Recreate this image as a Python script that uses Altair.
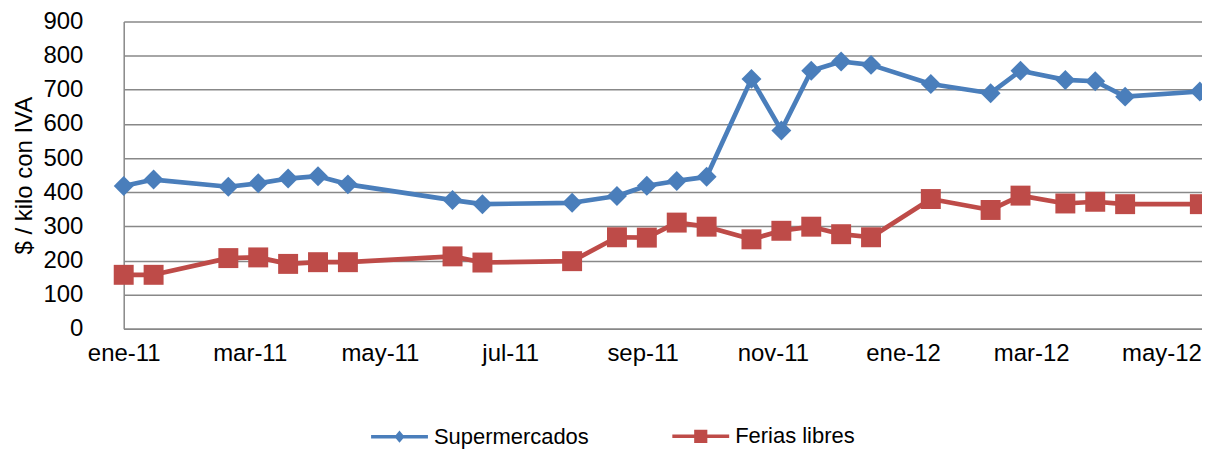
import altair as alt
import pandas as pd

# ---- data ----
dates = [
    "2011-01-01", "2011-01-15", "2011-02-19", "2011-03-05", "2011-03-19",
    "2011-04-02", "2011-04-16", "2011-06-04", "2011-06-18", "2011-07-30",
    "2011-08-20", "2011-09-03", "2011-09-17", "2011-10-01", "2011-10-22",
    "2011-11-05", "2011-11-19", "2011-12-03", "2011-12-17", "2012-01-14",
    "2012-02-11", "2012-02-25", "2012-03-17", "2012-03-31", "2012-04-14",
    "2012-05-19",
]
supermercados = [418, 437, 416, 426, 440, 447, 423, 377, 365, 369, 389, 419, 433,
                 445, 732, 581, 756, 783, 773, 717, 690, 756, 729, 725, 680, 695]
ferias_libres = [158, 158, 207, 209, 190, 195, 195, 212, 194, 198, 268, 267, 311,
                 299, 262, 287, 299, 277, 268, 380, 348, 390, 367, 372, 365, 365]

series_names = ["Supermercados", "Ferias libres"]
series_colors = ["#4A7EBB", "#BE4B48"]
series_shapes = ["diamond", "square"]
series_sizes = [400, 400]

tick_dates = [(2011, 1), (2011, 3), (2011, 5), (2011, 7), (2011, 9), (2011, 11),
              (2012, 1), (2012, 3), (2012, 5)]
month_names = ["ene", "feb", "mar", "abr", "may", "jun",
               "jul", "ago", "sep", "oct", "nov", "dic"]

y_ticks = list(range(0, 1000, 100))

rows = []
for d, v in zip(dates, supermercados):
    rows.append({"fecha": d, "serie": series_names[0], "valor": v})
for d, v in zip(dates, ferias_libres):
    rows.append({"fecha": d, "serie": series_names[1], "valor": v})
df = pd.DataFrame(rows)

FONT = "Liberation Sans"

month_arr = "[" + ",".join("'%s'" % m for m in month_names) + "]"
label_expr = month_arr + "[utcmonth(datum.value)] + '-' + utcFormat(datum.value, '%y')"

x_enc = alt.X(
    "fecha:T",
    scale=alt.Scale(type="utc",
                    domain=[alt.DateTime(year=2011, month=1, date=1, utc=True),
                            alt.DateTime(year=2012, month=5, date=20, utc=True)]),
    axis=alt.Axis(
        title=None,
        values=[alt.DateTime(year=y, month=m, date=1, utc=True) for y, m in tick_dates],
        labelExpr=label_expr,
        ticks=False, grid=False, domain=True, domainColor="#888888", domainWidth=1.5,
        labelFont=FONT, labelFontSize=24, labelColor="#000000", labelPadding=13,
        labelFlush=False, labelOverlap=False,
    ),
)

y_enc = alt.Y(
    "valor:Q",
    scale=alt.Scale(domain=[0, 900], nice=False),
    axis=alt.Axis(
        title="$ / kilo con IVA", titleFont=FONT, titleFontSize=24,
        titleFontWeight="normal", titleColor="#000000", titlePadding=6,
        values=y_ticks, ticks=False, grid=True, gridColor="#888888", gridWidth=1.5,
        domain=True, domainColor="#888888", domainWidth=1.5,
        labelFont=FONT, labelFontSize=24, labelColor="#000000", labelPadding=41,
    ),
)

dia = "M0,-0.12L0.1,0L0,0.12L-0.1,0Z"
sq = "M-0.17,-0.17L0.17,-0.17L0.17,0.17L-0.17,0.17Z"
line_path = "M-1,0L1,0"
shape_expr = ("datum.value === '%s' ? '%s%s' : '%s%s'"
              % (series_names[0], line_path, dia, line_path, sq))
color_expr = ("datum.value === '%s' ? '%s' : '%s'"
              % (series_names[0], series_colors[0], series_colors[1]))

color_scale = alt.Scale(domain=series_names, range=series_colors)

color_enc = alt.Color(
    "serie:N",
    scale=color_scale,
    legend=alt.Legend(
        title=None, orient="none", direction="horizontal",
        legendX=246, legendY=385,
        symbolSize=3249, columnPadding=76, labelOffset=4,
        symbolType=alt.ExprRef(expr=shape_expr),
        symbolFillColor=alt.ExprRef(expr=color_expr),
        symbolStrokeColor=alt.ExprRef(expr=color_expr),
        symbolStrokeWidth=3.5, symbolOpacity=1,
        labelFont=FONT, labelFontSize=22, labelColor="#000000",
    ),
)

base = alt.Chart(df)

lines = base.mark_line(strokeWidth=4.7, strokeCap="round", strokeJoin="round").encode(
    x=x_enc, y=y_enc, color=color_enc)

layers = [lines]
for name, shp, sz in zip(series_names, series_shapes, series_sizes):
    layers.append(
        base.transform_filter(alt.datum.serie == name)
        .mark_point(filled=True, size=sz, opacity=1, strokeWidth=0, shape=shp)
        .encode(x=x_enc, y=y_enc,
                color=alt.Color("serie:N", scale=color_scale, legend=None))
    )

chart = alt.layer(*layers).properties(
    width=1081, height=308,
    autosize=alt.AutoSizeParams(type="none"),
    padding={"left": 116, "top": 13, "right": 0, "bottom": 126},
    background="#ffffff",
).configure_view(stroke=None)

chart.save("out.html", embed_options={"renderer": "svg", "actions": False})
